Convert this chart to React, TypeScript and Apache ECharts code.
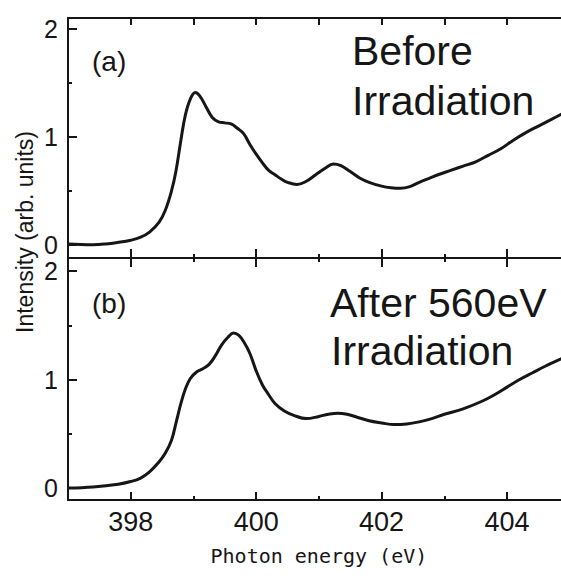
import React, { useEffect, useRef } from "react";
import * as echarts from "echarts";

const energyBefore = [397.0, 397.2, 397.4, 397.6, 397.8, 398.0, 398.15, 398.3, 398.45, 398.55, 398.65, 398.72, 398.8, 398.87, 398.95, 399.03, 399.1, 399.2, 399.3, 399.4, 399.5, 399.6, 399.7, 399.8, 399.9, 400.0, 400.1, 400.2, 400.3, 400.4, 400.5, 400.65, 400.8, 400.95, 401.1, 401.23, 401.35, 401.5, 401.65, 401.8, 402.0, 402.15, 402.3, 402.45, 402.6, 402.75, 402.9, 403.1, 403.3, 403.5, 403.7, 403.9, 404.1, 404.3, 404.5, 404.7, 404.9];
const intensityBefore = [0.01, 0.005, 0.003, 0.01, 0.025, 0.045, 0.07, 0.12, 0.21, 0.32, 0.5, 0.68, 0.97, 1.2, 1.35, 1.41, 1.38, 1.28, 1.18, 1.14, 1.13, 1.12, 1.08, 1.03, 0.93, 0.84, 0.76, 0.69, 0.65, 0.61, 0.58, 0.56, 0.59, 0.65, 0.71, 0.75, 0.735, 0.68, 0.62, 0.58, 0.545, 0.53, 0.525, 0.54, 0.58, 0.615, 0.65, 0.69, 0.73, 0.77, 0.83, 0.89, 0.97, 1.04, 1.1, 1.16, 1.22];

const energyAfter = [397.0, 397.4, 397.8, 398.0, 398.15, 398.3, 398.45, 398.55, 398.65, 398.73, 398.8, 398.87, 398.95, 399.05, 399.15, 399.25, 399.35, 399.45, 399.55, 399.64, 399.72, 399.8, 399.9, 400.0, 400.1, 400.2, 400.3, 400.45, 400.6, 400.8, 401.0, 401.15, 401.3, 401.45, 401.6, 401.8, 402.0, 402.2, 402.4, 402.6, 402.8, 403.0, 403.3, 403.6, 403.8, 404.0, 404.2, 404.4, 404.6, 404.9];
const intensityAfter = [0.0, 0.01, 0.035, 0.06, 0.09, 0.15, 0.24, 0.32, 0.44, 0.62, 0.78, 0.91, 1.01, 1.07, 1.1, 1.14, 1.22, 1.32, 1.39, 1.43, 1.41, 1.35, 1.24, 1.08, 0.95, 0.86, 0.78, 0.71, 0.67, 0.64, 0.66, 0.68, 0.69, 0.68, 0.655, 0.62, 0.6, 0.585, 0.59, 0.61, 0.64, 0.68, 0.73, 0.8, 0.86, 0.93, 1.0, 1.06, 1.12, 1.2];

// tick ranges: x labelled 398..404 every 2, y labelled 0..2 every 1
const xTickMin = 398;
const xTickMax = 404;
const yTickMin = 0;
const yTickMax = 2;

const INK = "#161616";
const SANS = "'Liberation Sans', Arial, Helvetica, sans-serif";

export default function App() {
  const ref = useRef<HTMLDivElement>(null);
  useEffect(() => {
    if (!ref.current) return;
    const chart = echarts.init(ref.current, undefined, { renderer: "svg" });

    const X_MIN = 397;
    const X_MAX = 404.86;
    const LEFT = 68;
    const WIDTH = 493;
    const A_TOP = 18, A_H = 240, A_YMIN = -0.12, A_YMAX = 2.1;
    const B_TOP = 258, B_H = 242, B_YMIN = -0.11, B_YMAX = 2.12;
    const px = (v: number) => LEFT + ((v - X_MIN) / (X_MAX - X_MIN)) * WIDTH;
    const pyA = (v: number) => A_TOP + ((A_YMAX - v) / (A_YMAX - A_YMIN)) * A_H;
    const pyB = (v: number) => B_TOP + ((B_YMAX - v) / (B_YMAX - B_YMIN)) * B_H;

    const hidden = (grid: number) => ({ type: "value", gridIndex: grid, show: false, min: 0, max: 1 });
    const frameX = (grid: number, position: string) => ({
      type: "value", gridIndex: grid, position, min: X_MIN, max: X_MAX,
      axisLine: { show: true, onZero: false, lineStyle: { color: INK, width: 2 } },
      axisTick: { show: false }, axisLabel: { show: false }, splitLine: { show: false },
    });
    const frameY = (grid: number, position: string, min: number, max: number) => ({
      type: "value", gridIndex: grid, position, min, max,
      axisLine: { show: true, onZero: false, lineStyle: { color: INK, width: 2 } },
      axisTick: { show: false }, axisLabel: { show: false }, splitLine: { show: false },
    });
    const tickX = (grid: number, position: string, interval: number, len: number, minor: boolean, labels: boolean) => ({
      type: "value", gridIndex: grid, position, min: xTickMin, max: xTickMax, interval,
      axisLine: { show: true, onZero: false, lineStyle: { color: INK, width: 1 } },
      axisTick: { show: true, inside: true, length: len, lineStyle: { color: INK, width: 2 } },
      minorTick: { show: minor, splitNumber: 2, length: 4, lineStyle: { color: INK, width: 2 } },
      axisLabel: labels ? { show: true, fontSize: 27, fontFamily: SANS, color: INK, margin: 8 } : { show: false },
      splitLine: { show: false }, minorSplitLine: { show: false },
    });
    const tickY = (grid: number, position: string, labels: boolean) => ({
      type: "value", gridIndex: grid, position, min: yTickMin, max: yTickMax, interval: 1,
      axisLine: { show: true, onZero: false, lineStyle: { color: INK, width: 1 } },
      axisTick: { show: true, inside: true, length: 9, lineStyle: { color: INK, width: 2 } },
      minorTick: { show: true, splitNumber: 2, length: 4, lineStyle: { color: INK, width: 2 } },
      axisLabel: labels ? { show: true, fontSize: 25, fontFamily: SANS, color: INK, margin: 10 } : { show: false },
      splitLine: { show: false }, minorSplitLine: { show: false },
    });

    const xTickLeft = px(xTickMin);
    const xTickWidth = px(xTickMax) - px(xTickMin);

    const bottomB = tickX(3, "bottom", 2, 8, true, true) as any;
    bottomB.name = "Photon energy (eV)";
    bottomB.nameLocation = "middle";
    bottomB.nameGap = 46;
    bottomB.nameTextStyle = { fontFamily: "'DejaVu Sans Mono', monospace", fontSize: 20, color: INK };

    const textStyle = (text: string, size: number) => ({ text, fontSize: size, fontFamily: SANS, fill: INK, align: "left", verticalAlign: "middle" });
    const g = (o: any) => ({ ...o, outerBoundsMode: "none", containLabel: false });

    chart.setOption({
      animation: false,
      backgroundColor: "#ffffff",
      grid: [
        g({ left: LEFT, top: A_TOP, width: WIDTH, height: A_H }),
        g({ left: LEFT, top: B_TOP, width: WIDTH, height: B_H }),
        g({ left: xTickLeft, top: A_TOP, width: xTickWidth, height: A_H }),
        g({ left: xTickLeft, top: B_TOP, width: xTickWidth, height: B_H }),
        g({ left: LEFT, top: pyA(yTickMax), width: WIDTH, height: pyA(yTickMin) - pyA(yTickMax) }),
        g({ left: LEFT, top: pyB(yTickMax), width: WIDTH, height: pyB(yTickMin) - pyB(yTickMax) }),
      ],
      xAxis: [
        frameX(0, "bottom"), frameX(0, "top"), frameX(1, "bottom"), frameX(1, "top"),
        tickX(2, "bottom", 2, 9, true, false),
        tickX(2, "top", 1, 7, false, false),
        tickX(3, "top", 2, 9, true, false),
        bottomB,
        hidden(4), hidden(5),
      ],
      yAxis: [
        frameY(0, "left", A_YMIN, A_YMAX),
        frameY(1, "left", B_YMIN, B_YMAX),
        hidden(2), hidden(3),
        tickY(4, "left", true),
        tickY(5, "left", true),
      ],
      series: [
        { type: "line", xAxisIndex: 0, yAxisIndex: 0, data: energyBefore.map((e, i) => [e, intensityBefore[i]]), showSymbol: false, smooth: 0.4, lineStyle: { color: INK, width: 3 } },
        { type: "line", xAxisIndex: 2, yAxisIndex: 1, data: energyAfter.map((e, i) => [e, intensityAfter[i]]), showSymbol: false, smooth: 0.4, lineStyle: { color: INK, width: 3 } },
      ],
      graphic: [
        { type: "text", x: 92, y: 61, style: textStyle("(a)", 28) },
        { type: "text", x: 92, y: 303, style: textStyle("(b)", 28) },
        { type: "text", x: 352, y: 51, style: textStyle("Before", 41) },
        { type: "text", x: 352, y: 101, style: textStyle("Irradiation", 41) },
        { type: "text", x: 330, y: 303, style: textStyle("After 560eV", 41) },
        { type: "text", x: 331, y: 351, style: textStyle("Irradiation", 41) },
        { type: "text", x: 25, y: 232, rotation: Math.PI / 2, style: { text: "Intensity (arb. units)", fontSize: 23, fontFamily: SANS, fill: INK, align: "center", verticalAlign: "middle" } },
      ],
    });
    return () => chart.dispose();
  }, []);
  return (
    <div style={{ position: "fixed", left: 0, top: 0, width: 561, height: 578, overflow: "hidden", background: "#fff" }}>
      <div ref={ref} style={{ width: 561, height: 578 }} />
    </div>
  );
}
